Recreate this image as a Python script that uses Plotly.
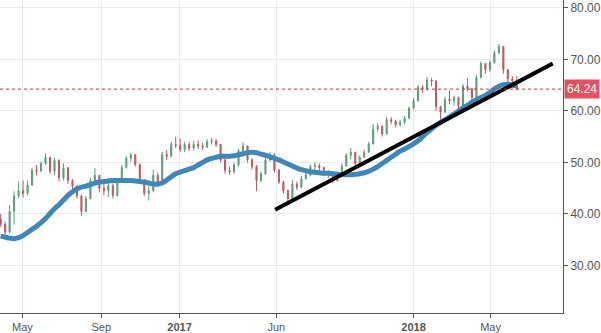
import pandas as pd
import plotly.graph_objects as go

# Weekly candles
start_date = "2016-03-28"
first_open = 39.0
close = [38.0, 36.5, 40.5, 43.5, 44.5, 44.0, 45.6, 48.5, 48.3, 49.8,
         51.0, 48.3, 50.4, 47.0, 49.0, 46.5, 45.4, 43.5, 40.5, 43.0,
         46.5, 47.5, 45.0, 44.5, 45.5, 43.6, 46.5, 49.0, 50.8, 51.5,
         49.6, 46.5, 44.0, 44.5, 47.5, 46.0, 51.5, 51.2, 53.5, 53.3,
         52.5, 53.5, 52.8, 53.5, 53.2, 53.0, 54.0, 54.2, 53.5, 50.5,
         48.5, 48.2, 49.5, 52.3, 53.2, 50.5, 49.2, 46.5, 47.8, 50.5,
         51.5, 48.5, 46.2, 44.5, 43.0, 45.8, 45.2, 46.8, 47.6, 49.2,
         49.4, 49.0, 48.0, 47.5, 46.4, 47.6, 49.3, 51.4, 52.0, 49.8,
         51.0, 52.0, 53.6, 56.5, 57.0, 55.5, 58.3, 58.0, 57.3, 57.8,
         58.6, 60.5, 62.0, 64.6, 64.2, 66.0, 65.8, 60.8, 59.8, 62.3,
         62.0, 62.6, 61.0, 64.8, 64.3, 62.6, 66.5, 69.2, 68.0, 69.4,
         71.3, 72.5, 68.0, 66.2, 65.8, 64.24]
high = [40.0, 38.5, 41.7, 44.4, 46.3, 46.5, 46.5, 49.0, 49.5, 50.2,
        51.8, 51.0, 50.9, 50.6, 49.8, 49.0, 46.8, 45.5, 43.8, 43.5,
        47.0, 48.9, 47.6, 46.8, 47.0, 45.9, 47.0, 49.5, 51.3, 51.9,
        51.6, 49.8, 46.8, 45.6, 48.6, 48.0, 52.1, 52.4, 54.0, 55.0,
        54.6, 54.0, 54.0, 54.2, 54.3, 53.8, 54.5, 54.8, 54.5, 53.6,
        50.8, 49.2, 50.0, 52.6, 53.9, 52.8, 50.8, 49.5, 48.2, 51.0,
        52.0, 51.8, 48.7, 46.5, 44.8, 46.6, 46.3, 47.4, 48.2, 49.6,
        50.0, 49.8, 49.2, 48.5, 47.6, 48.2, 49.8, 51.8, 52.8, 52.0,
        51.4, 52.5, 54.0, 57.5, 57.6, 57.2, 58.8, 58.8, 58.3, 58.3,
        59.0, 60.9, 62.5, 65.0, 65.0, 66.6, 66.4, 66.0, 61.0, 62.8,
        63.9, 63.0, 62.8, 65.2, 66.3, 64.4, 67.0, 69.6, 69.2, 69.8,
        71.8, 73.0, 72.6, 67.2, 66.8, 66.8]
low = [37.5, 35.8, 36.2, 37.9, 43.0, 43.2, 43.6, 45.5, 47.5, 48.3,
       49.5, 47.8, 47.5, 46.3, 46.5, 45.8, 44.8, 43.0, 39.6, 40.8,
       42.8, 46.2, 44.2, 43.6, 43.3, 43.0, 43.3, 46.2, 48.8, 50.2,
       49.2, 46.0, 43.5, 42.6, 44.2, 45.3, 45.8, 50.5, 51.0, 52.8,
       52.0, 52.0, 52.2, 52.3, 52.6, 52.4, 52.8, 53.5, 53.0, 50.0,
       47.8, 47.6, 47.8, 49.2, 52.0, 50.0, 48.6, 44.4, 46.2, 47.6,
       50.2, 48.0, 45.8, 44.0, 42.4, 42.9, 44.6, 45.0, 46.7, 47.3,
       48.6, 48.4, 47.5, 46.9, 46.0, 46.5, 47.3, 49.2, 50.6, 49.3,
       49.5, 51.0, 51.9, 53.5, 56.0, 55.0, 55.5, 57.4, 56.8, 57.0,
       57.4, 58.5, 60.3, 61.8, 63.5, 64.0, 64.8, 60.0, 58.3, 59.6,
       61.3, 61.0, 60.4, 61.0, 63.8, 61.9, 62.6, 66.3, 67.2, 67.6,
       69.2, 71.0, 67.2, 65.3, 65.0, 64.0]
moving_avg = [35.7, 35.5, 35.3, 35.2, 35.4, 35.8, 36.4, 37.0, 37.6, 38.3,
              39.1, 40.1, 41.0, 41.8, 42.7, 43.6, 44.3, 44.9, 45.2, 45.4,
              45.7, 46.0, 46.2, 46.3, 46.4, 46.5, 46.5, 46.5, 46.5, 46.5,
              46.4, 46.3, 46.2, 46.0, 45.8, 45.8, 46.0, 46.6, 47.2, 47.8,
              48.1, 48.4, 48.7, 49.0, 49.5, 50.0, 50.5, 50.8, 51.0, 51.2,
              51.2, 51.2, 51.3, 51.5, 51.7, 51.9, 52.0, 51.9, 51.6, 51.4,
              51.1, 50.8, 50.5, 50.1, 49.7, 49.3, 48.9, 48.6, 48.4, 48.2,
              48.1, 48.0, 47.9, 47.9, 47.8, 47.7, 47.6, 47.6, 47.6, 47.7,
              47.8, 48.0, 48.3, 48.7, 49.2, 49.8, 50.4, 51.0, 51.6, 52.2,
              52.6, 53.1, 53.6, 54.2, 55.0, 55.8, 56.5, 57.2, 57.8, 58.3,
              58.8, 59.4, 60.0, 60.6, 61.1, 61.7, 62.2, 62.6, 63.0, 63.6,
              64.3, 64.8, 65.1, 65.2, 65.0, 64.9]
trend_dates = ["2017-05-30", "2018-08-06"]
trend_values = [40.8, 69.2]
last_price = 64.24
x_tick_dates = ["2016-05-01", "2016-09-01", "2017-01-01", "2017-06-01", "2018-01-01", "2018-05-01"]
x_tick_labels = ["May", "Sep", "<b>2017</b>", "Jun", "<b>2018</b>", "May"]
y_ticks = [30, 40, 50, 60, 70, 80]

dates = pd.date_range(start_date, periods=len(close), freq="7D")
opens = [first_open] + close[:-1]

fig = go.Figure()
fig.add_trace(go.Candlestick(
    x=dates, open=opens, high=high, low=low, close=close,
    increasing=dict(line=dict(color="#5e9c77", width=1), fillcolor="#6aa583"),
    decreasing=dict(line=dict(color="#b95a62", width=1), fillcolor="#c0646b"),
    showlegend=False, hoverinfo="skip"))
fig.add_trace(go.Scatter(
    x=dates, y=moving_avg, mode="lines",
    line=dict(color="#3f87b6", width=5, shape="spline"),
    showlegend=False, hoverinfo="skip"))
fig.add_trace(go.Scatter(
    x=trend_dates, y=trend_values, mode="lines",
    line=dict(color="black", width=4),
    showlegend=False, hoverinfo="skip"))

fig.add_shape(type="line", xref="paper", yref="y", x0=0, x1=1,
              y0=last_price, y1=last_price,
              line=dict(color="#c0393f", width=1, dash="dot"))
fig.add_annotation(xref="paper", yref="y", x=1, y=last_price,
                   text=f"{last_price:.2f}", showarrow=False,
                   xanchor="left", yanchor="middle", xshift=1,
                   bgcolor="#e5505c", borderpad=2,
                   font=dict(color="white", size=12, family="Liberation Sans, Arial"))

fig.update_layout(
    width=601, height=333,
    margin=dict(l=0, r=38, t=0, b=17),
    paper_bgcolor="white", plot_bgcolor="white",
    boxgap=0.65,
    font=dict(family="Liberation Sans, Arial", color="#555555", size=12),
    xaxis=dict(
        range=["2016-03-27", "2018-08-22"],
        rangeslider=dict(visible=False),
        tickvals=x_tick_dates, ticktext=x_tick_labels,
        showgrid=True, gridcolor="#e4eaee", gridwidth=1,
        showline=True, linecolor="#555555", linewidth=1,
        ticks="outside", ticklen=4, tickcolor="#555555",
        tickfont=dict(size=11, color="#555555"),
        zeroline=False),
    yaxis=dict(
        side="right", range=[20.77, 81.54],
        tickvals=y_ticks, tickformat=".2f",
        showgrid=True, gridcolor="#e4eaee", gridwidth=1,
        showline=True, linecolor="#555555", linewidth=1,
        ticks="outside", ticklen=4, tickcolor="#555555",
        tickfont=dict(size=12, color="#555555"),
        zeroline=False),
)

fig.write_html("out.html")
